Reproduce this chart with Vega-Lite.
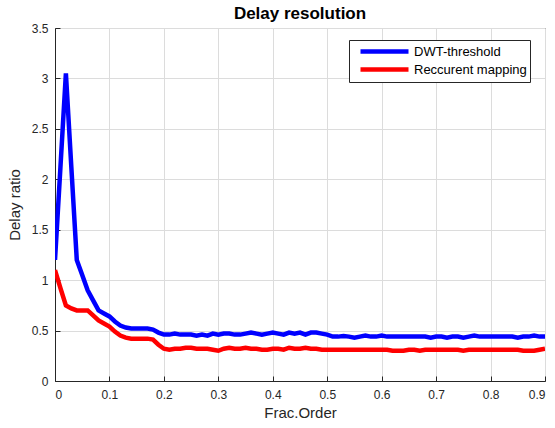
{
  "$schema": "https://vega.github.io/schema/vega-lite/v6.json",
  "autosize": "none",
  "width": 490,
  "height": 353,
  "padding": {"left": 55, "top": 28, "right": 10, "bottom": 47},
  "background": "white",
  "title": {"text": "Delay resolution", "font": "Liberation Sans", "fontSize": 17, "fontWeight": "bold", "color": "#000000", "anchor": "middle", "offset": -1},
  "config": {
    "view": {"stroke": "#262626", "strokeWidth": 1},
    "axis": {"labelFont": "Liberation Sans", "titleFont": "Liberation Sans", "labelFontSize": 12, "titleFontSize": 15, "titleFontWeight": "normal", "labelColor": "#262626", "titleColor": "#262626", "domainColor": "#262626", "tickColor": "#262626", "gridColor": "#dcdcdc", "gridWidth": 1}
  },
  "data": {
    "values": [
      {"x": 0.00, "DWT-threshold": 1.2, "Reccurent mapping": 1.1},
      {"x": 0.01, "DWT-threshold": 2.12, "Reccurent mapping": 0.92},
      {"x": 0.02, "DWT-threshold": 3.05, "Reccurent mapping": 0.75},
      {"x": 0.03, "DWT-threshold": 2.12, "Reccurent mapping": 0.72},
      {"x": 0.04, "DWT-threshold": 1.2, "Reccurent mapping": 0.7},
      {"x": 0.05, "DWT-threshold": 1.05, "Reccurent mapping": 0.7},
      {"x": 0.06, "DWT-threshold": 0.9, "Reccurent mapping": 0.7},
      {"x": 0.07, "DWT-threshold": 0.8, "Reccurent mapping": 0.65},
      {"x": 0.08, "DWT-threshold": 0.7, "Reccurent mapping": 0.6},
      {"x": 0.09, "DWT-threshold": 0.67, "Reccurent mapping": 0.57},
      {"x": 0.10, "DWT-threshold": 0.64, "Reccurent mapping": 0.54},
      {"x": 0.11, "DWT-threshold": 0.59, "Reccurent mapping": 0.49},
      {"x": 0.12, "DWT-threshold": 0.55, "Reccurent mapping": 0.45},
      {"x": 0.13, "DWT-threshold": 0.53, "Reccurent mapping": 0.43},
      {"x": 0.14, "DWT-threshold": 0.52, "Reccurent mapping": 0.42},
      {"x": 0.15, "DWT-threshold": 0.52, "Reccurent mapping": 0.42},
      {"x": 0.16, "DWT-threshold": 0.52, "Reccurent mapping": 0.42},
      {"x": 0.17, "DWT-threshold": 0.52, "Reccurent mapping": 0.42},
      {"x": 0.18, "DWT-threshold": 0.51, "Reccurent mapping": 0.41},
      {"x": 0.19, "DWT-threshold": 0.48, "Reccurent mapping": 0.36},
      {"x": 0.20, "DWT-threshold": 0.46, "Reccurent mapping": 0.32},
      {"x": 0.21, "DWT-threshold": 0.46, "Reccurent mapping": 0.31},
      {"x": 0.22, "DWT-threshold": 0.47, "Reccurent mapping": 0.32},
      {"x": 0.23, "DWT-threshold": 0.46, "Reccurent mapping": 0.32},
      {"x": 0.24, "DWT-threshold": 0.46, "Reccurent mapping": 0.33},
      {"x": 0.25, "DWT-threshold": 0.46, "Reccurent mapping": 0.33},
      {"x": 0.26, "DWT-threshold": 0.45, "Reccurent mapping": 0.32},
      {"x": 0.27, "DWT-threshold": 0.46, "Reccurent mapping": 0.32},
      {"x": 0.28, "DWT-threshold": 0.45, "Reccurent mapping": 0.32},
      {"x": 0.29, "DWT-threshold": 0.47, "Reccurent mapping": 0.31},
      {"x": 0.30, "DWT-threshold": 0.46, "Reccurent mapping": 0.30},
      {"x": 0.31, "DWT-threshold": 0.47, "Reccurent mapping": 0.32},
      {"x": 0.32, "DWT-threshold": 0.47, "Reccurent mapping": 0.33},
      {"x": 0.33, "DWT-threshold": 0.46, "Reccurent mapping": 0.32},
      {"x": 0.34, "DWT-threshold": 0.46, "Reccurent mapping": 0.32},
      {"x": 0.35, "DWT-threshold": 0.47, "Reccurent mapping": 0.33},
      {"x": 0.36, "DWT-threshold": 0.48, "Reccurent mapping": 0.32},
      {"x": 0.37, "DWT-threshold": 0.47, "Reccurent mapping": 0.32},
      {"x": 0.38, "DWT-threshold": 0.46, "Reccurent mapping": 0.31},
      {"x": 0.39, "DWT-threshold": 0.47, "Reccurent mapping": 0.31},
      {"x": 0.40, "DWT-threshold": 0.48, "Reccurent mapping": 0.32},
      {"x": 0.41, "DWT-threshold": 0.47, "Reccurent mapping": 0.32},
      {"x": 0.42, "DWT-threshold": 0.46, "Reccurent mapping": 0.31},
      {"x": 0.43, "DWT-threshold": 0.48, "Reccurent mapping": 0.33},
      {"x": 0.44, "DWT-threshold": 0.47, "Reccurent mapping": 0.32},
      {"x": 0.45, "DWT-threshold": 0.48, "Reccurent mapping": 0.32},
      {"x": 0.46, "DWT-threshold": 0.46, "Reccurent mapping": 0.33},
      {"x": 0.47, "DWT-threshold": 0.48, "Reccurent mapping": 0.32},
      {"x": 0.48, "DWT-threshold": 0.48, "Reccurent mapping": 0.32},
      {"x": 0.49, "DWT-threshold": 0.47, "Reccurent mapping": 0.31},
      {"x": 0.50, "DWT-threshold": 0.46, "Reccurent mapping": 0.31},
      {"x": 0.51, "DWT-threshold": 0.44, "Reccurent mapping": 0.31},
      {"x": 0.52, "DWT-threshold": 0.44, "Reccurent mapping": 0.31},
      {"x": 0.53, "DWT-threshold": 0.445, "Reccurent mapping": 0.31},
      {"x": 0.54, "DWT-threshold": 0.44, "Reccurent mapping": 0.31},
      {"x": 0.55, "DWT-threshold": 0.43, "Reccurent mapping": 0.31},
      {"x": 0.56, "DWT-threshold": 0.44, "Reccurent mapping": 0.31},
      {"x": 0.57, "DWT-threshold": 0.45, "Reccurent mapping": 0.31},
      {"x": 0.58, "DWT-threshold": 0.44, "Reccurent mapping": 0.31},
      {"x": 0.59, "DWT-threshold": 0.44, "Reccurent mapping": 0.31},
      {"x": 0.60, "DWT-threshold": 0.45, "Reccurent mapping": 0.31},
      {"x": 0.61, "DWT-threshold": 0.44, "Reccurent mapping": 0.31},
      {"x": 0.62, "DWT-threshold": 0.44, "Reccurent mapping": 0.30},
      {"x": 0.63, "DWT-threshold": 0.44, "Reccurent mapping": 0.30},
      {"x": 0.64, "DWT-threshold": 0.44, "Reccurent mapping": 0.30},
      {"x": 0.65, "DWT-threshold": 0.44, "Reccurent mapping": 0.31},
      {"x": 0.66, "DWT-threshold": 0.44, "Reccurent mapping": 0.31},
      {"x": 0.67, "DWT-threshold": 0.44, "Reccurent mapping": 0.30},
      {"x": 0.68, "DWT-threshold": 0.44, "Reccurent mapping": 0.31},
      {"x": 0.69, "DWT-threshold": 0.43, "Reccurent mapping": 0.31},
      {"x": 0.70, "DWT-threshold": 0.44, "Reccurent mapping": 0.31},
      {"x": 0.71, "DWT-threshold": 0.44, "Reccurent mapping": 0.31},
      {"x": 0.72, "DWT-threshold": 0.43, "Reccurent mapping": 0.31},
      {"x": 0.73, "DWT-threshold": 0.44, "Reccurent mapping": 0.31},
      {"x": 0.74, "DWT-threshold": 0.44, "Reccurent mapping": 0.31},
      {"x": 0.75, "DWT-threshold": 0.43, "Reccurent mapping": 0.30},
      {"x": 0.76, "DWT-threshold": 0.44, "Reccurent mapping": 0.31},
      {"x": 0.77, "DWT-threshold": 0.45, "Reccurent mapping": 0.31},
      {"x": 0.78, "DWT-threshold": 0.44, "Reccurent mapping": 0.31},
      {"x": 0.79, "DWT-threshold": 0.44, "Reccurent mapping": 0.31},
      {"x": 0.80, "DWT-threshold": 0.44, "Reccurent mapping": 0.31},
      {"x": 0.81, "DWT-threshold": 0.44, "Reccurent mapping": 0.31},
      {"x": 0.82, "DWT-threshold": 0.44, "Reccurent mapping": 0.31},
      {"x": 0.83, "DWT-threshold": 0.44, "Reccurent mapping": 0.31},
      {"x": 0.84, "DWT-threshold": 0.44, "Reccurent mapping": 0.31},
      {"x": 0.85, "DWT-threshold": 0.43, "Reccurent mapping": 0.31},
      {"x": 0.86, "DWT-threshold": 0.44, "Reccurent mapping": 0.30},
      {"x": 0.87, "DWT-threshold": 0.44, "Reccurent mapping": 0.30},
      {"x": 0.88, "DWT-threshold": 0.45, "Reccurent mapping": 0.30},
      {"x": 0.89, "DWT-threshold": 0.44, "Reccurent mapping": 0.31},
      {"x": 0.90, "DWT-threshold": 0.44, "Reccurent mapping": 0.32}
    ]
  },
  "transform": [
    {"fold": ["DWT-threshold", "Reccurent mapping"], "as": ["series", "y"]}
  ],
  "mark": {"type": "line", "strokeWidth": 4.5, "clip": true},
  "encoding": {
    "x": {
      "field": "x", "type": "quantitative",
      "scale": {"domain": [0, 0.9], "nice": false, "zero": false},
      "axis": {"title": "Frac.Order", "values": [0, 0.1, 0.2, 0.3, 0.4, 0.5, 0.6, 0.7, 0.8, 0.9], "format": "~g", "tickSize": -5, "labelPadding": 13, "titlePadding": 5, "grid": true}
    },
    "y": {
      "field": "y", "type": "quantitative",
      "scale": {"domain": [0, 3.5], "nice": false},
      "axis": {"title": "Delay ratio", "values": [0, 0.5, 1, 1.5, 2, 2.5, 3, 3.5], "format": "~g", "tickSize": -5, "labelPadding": 12, "titlePadding": 9, "grid": true}
    },
    "color": {
      "field": "series", "type": "nominal",
      "scale": {"domain": ["DWT-threshold", "Reccurent mapping"], "range": ["#0000ff", "#ff0000"]},
      "legend": {
        "title": null, "orient": "none", "legendX": 294, "legendY": 12,
        "symbolType": "M0,0H8", "symbolSize": 144, "symbolStrokeWidth": 4.5,
        "labelFont": "Liberation Sans", "labelFontSize": 13, "labelColor": "#000000",
        "strokeColor": "#262626", "fillColor": "white", "padding": 3, "rowPadding": -1, "symbolOffset": 0, "labelOffset": 45
      }
    }
  }
}
